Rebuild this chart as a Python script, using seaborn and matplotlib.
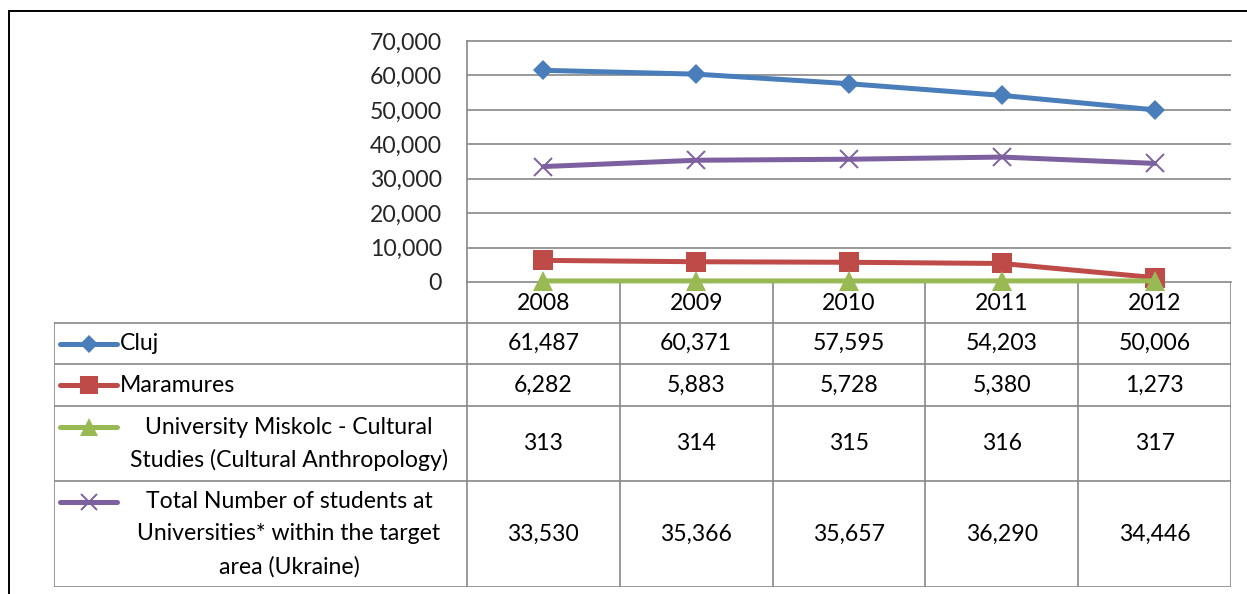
import matplotlib
matplotlib.use("Agg")
import matplotlib.pyplot as plt
from matplotlib.patches import Rectangle
import pandas as pd
import seaborn as sns

# ---- data -------------------------------------------------------------
years = ["2008", "2009", "2010", "2011", "2012"]
cluj = [61487, 60371, 57595, 54203, 50006]
maramures = [6282, 5883, 5728, 5380, 1273]
miskolc = [313, 314, 315, 316, 317]
total_ukraine = [33530, 35366, 35657, 36290, 34446]

series_labels = [
    ["Cluj"],
    ["Maramures"],
    ["University Miskolc - Cultural", "Studies (Cultural Anthropology)"],
    ["Total Number of students at", "Universities* within the target", "area (Ukraine)"],
]
y_ticks = [0, 10000, 20000, 30000, 40000, 50000, 60000, 70000]

# ---- styling ------------------------------------------------------------
series_values = [cluj, maramures, miskolc, total_ukraine]
series_styles = [
    dict(color="#4A7EBB", marker="D", markersize=10, markeredgewidth=0),
    dict(color="#BE4B48", marker="s", markersize=14, markeredgewidth=0),
    dict(color="#98B954", marker="^", markersize=14.5, markeredgewidth=0),
    dict(color="#7D60A0", marker="x", markersize=13.5, markeredgewidth=1.4),
]
LW = 3.6
GRID = "#878787"
FS = 16.6

W, H, DPI = 1247, 594, 100
sns.set_theme(style="white")
plt.rcParams["font.family"] = ["Lato", "DejaVu Sans"]
plt.rcParams["text.color"] = "black"

fig = plt.figure(figsize=(W / DPI, H / DPI), dpi=DPI)
fig.patch.set_facecolor("white")


def fx(px):
    return px / W


def fy(py):
    return 1 - py / H


# layout in pixels
PL, PR, PT, PB = 467, 1231, 41, 282       # plot area
TL, TB = 54, 587                          # data table left / bottom
row_edges = [0, 40.7, 82.5, 124, 199, 305]  # table rows, pixels below the axis
col_w = (PR - PL) / len(years)

# ---- line chart ---------------------------------------------------------
ax = fig.add_axes([fx(PL), fy(PB), fx(PR) - fx(PL), fy(PT) - fy(PB)])
for vals, st in zip(series_values, series_styles):
    df = pd.DataFrame({"year": years, "students": vals})
    sns.lineplot(data=df, x="year", y="students", ax=ax, sort=False,
                 legend=False, linewidth=LW, markeredgecolor=st["color"],
                 clip_on=False, zorder=3, **st)

ax.set_xlim(-0.5, len(years) - 0.5)
ax.set_ylim(y_ticks[0], y_ticks[-1])
ax.set_yticks(y_ticks)
ax.set_yticklabels([f"{v:,}" for v in y_ticks], fontsize=FS)
ax.set_xticks(range(len(years)))
ax.set_xticklabels([])
ax.tick_params(axis="both", length=0)
ax.tick_params(axis="y", pad=18)
ax.set_xlabel("")
ax.set_ylabel("")
for t in y_ticks[1:-1]:
    ax.axhline(t, color=GRID, lw=1.2, zorder=0.5)
for side in ["left", "top", "bottom"]:
    ax.spines[side].set_visible(True)
    ax.spines[side].set_color(GRID)
    ax.spines[side].set_linewidth(1.2)
ax.spines["right"].set_visible(False)
ax.set_facecolor("none")

# ---- data table ---------------------------------------------------------
x_left = -0.5 - (PL - TL) / col_w


def tx(px):
    return x_left + (px - TL) / col_w


tab = fig.add_axes([fx(TL), fy(TB), fx(PR) - fx(TL), fy(PB) - fy(TB)])
tab.set_xlim(x_left, len(years) - 0.5)
tab.set_ylim(row_edges[-1], 0)
tab.axis("off")
tab.set_zorder(-1)

lk = dict(color=GRID, lw=1.2, solid_capstyle="projecting")
for e in row_edges[1:]:
    tab.plot([x_left, len(years) - 0.5], [e, e], **lk)
tab.plot([x_left, x_left], [row_edges[1], row_edges[-1]], **lk)
for k in range(len(years) + 1):
    tab.plot([k - 0.5, k - 0.5], [0, row_edges[-1]], **lk)

# header row: years
for i, yr in enumerate(years):
    tab.text(i, (row_edges[0] + row_edges[1]) / 2 + 1, yr, ha="center",
             va="center", fontsize=FS)

LINE_STEP = 32.5
for r, (labels, vals, st) in enumerate(zip(series_labels, series_values, series_styles)):
    top, bot = row_edges[r + 1], row_edges[r + 2]
    mid = (top + bot) / 2
    n = len(labels)
    first = mid - (n - 1) / 2 * LINE_STEP
    # legend key
    tab.plot([tx(60), tx(88.5), tx(117)], [first] * 3, color=st["color"],
             lw=LW, marker=st["marker"], markevery=[1],
             markersize=st["markersize"] * 0.9,
             markeredgewidth=st["markeredgewidth"],
             markeredgecolor=st["color"], solid_capstyle="round")
    # label text
    for k, line in enumerate(labels):
        yy = first + k * LINE_STEP
        if n == 1:
            tab.text(tx(120), yy, line, ha="left", va="center", fontsize=FS)
        else:
            tab.text(tx(289), yy, line, ha="center", va="center", fontsize=FS)
    # values
    for i, v in enumerate(vals):
        tab.text(i, mid, f"{v:,}", ha="center", va="center", fontsize=FS)

# ---- outer chart frame --------------------------------------------------
fig.patches.append(Rectangle((fx(9), -0.5), 2, fy(11) + 0.5,
                             transform=fig.transFigure, fill=False,
                             edgecolor="black", lw=1.4))

fig.savefig("out.png", dpi=DPI, facecolor="white")
